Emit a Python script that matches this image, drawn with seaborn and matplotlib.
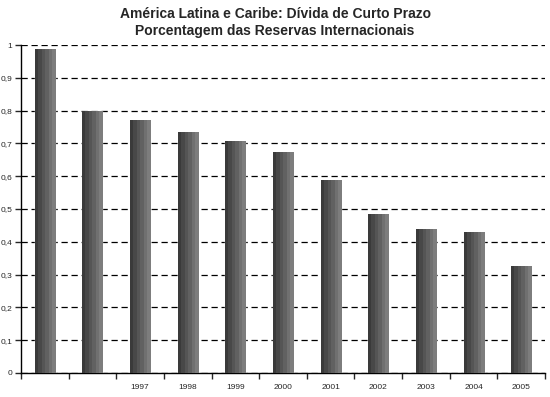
import numpy as np
import pandas as pd
import matplotlib
matplotlib.use('Agg')
import matplotlib.pyplot as plt
import seaborn as sns
from matplotlib.ticker import FuncFormatter, FixedLocator

years = [1995, 1996, 1997, 1998, 1999, 2000, 2001, 2002, 2003, 2004, 2005]
year_labels = ['', '', '1997', '1998', '1999', '2000', '2001', '2002', '2003', '2004', '2005']
ratio = [0.988, 0.800, 0.771, 0.735, 0.707, 0.674, 0.588, 0.485, 0.439, 0.430, 0.326]

df = pd.DataFrame({'ano': years, 'ratio': ratio})

sns.set_style('white')
plt.rcParams['font.family'] = ['Liberation Sans', 'DejaVu Sans']

fig = plt.figure(figsize=(5.5, 3.97), dpi=100)
ax = fig.add_axes([0.038, 0.0605, 0.953, 0.826])

sns.barplot(data=df, x='ano', y='ratio', color='#555555', width=0.42, ax=ax)

# gradient fill (dark left -> lighter right) clipped to each bar
grad = np.linspace(0.23, 0.49, 6).reshape(1, -1)
for p in ax.patches:
    x0, y0 = p.get_x(), p.get_y()
    w, h = p.get_width(), p.get_height()
    im = ax.imshow(grad, cmap='gray', vmin=0, vmax=1, aspect='auto',
                   extent=(x0, x0 + w, y0, y0 + h), interpolation='nearest', zorder=3)
    im.set_clip_path(p)
    p.set_zorder(3)

ax.set_xlim(-0.5, len(years) - 0.5)
ax.set_ylim(0, 1)
ax.set_yticks(np.arange(0, 1.01, 0.1))
ax.yaxis.set_major_formatter(FuncFormatter(lambda v, _: ('%g' % round(v, 1)).replace('.', ',')))
ax.yaxis.grid(True, color='black', linestyle=(0, (5, 3)), linewidth=0.9)
ax.set_axisbelow(True)

# labels at bar centres, tick marks at category boundaries
ax.set_xticks(range(len(years)))
ax.set_xticklabels(year_labels)
ax.tick_params(axis='x', which='major', length=0, pad=8, labelsize=6)
ax.xaxis.set_minor_locator(FixedLocator(np.arange(-0.5, len(years), 1.0)))
ax.tick_params(axis='x', which='minor', length=4, width=1, direction='out', bottom=True)
ax.tick_params(axis='y', length=4, width=1, direction='out', left=True, labelsize=6, pad=2)

for s in ['top', 'right']:
    ax.spines[s].set_visible(False)
for s in ['left', 'bottom']:
    ax.spines[s].set_color('black')
    ax.spines[s].set_linewidth(1)

ax.set_xlabel('')
ax.set_ylabel('')

fig.text(0.5, 0.965, 'América Latina e Caribe: Dívida de Curto Prazo', ha='center', va='center',
         fontsize=10, fontweight='bold')
fig.text(0.5, 0.922, 'Porcentagem das Reservas Internacionais', ha='center', va='center',
         fontsize=10, fontweight='bold')

fig.savefig('out.png', dpi=100)
